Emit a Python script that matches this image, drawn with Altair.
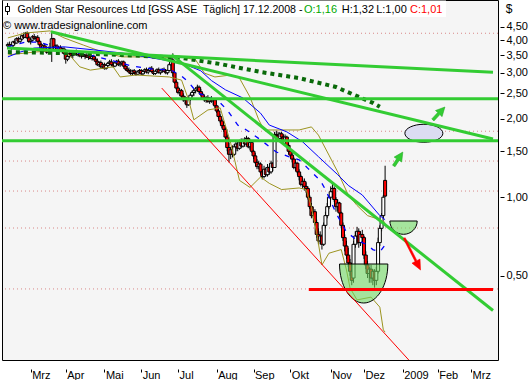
import altair as alt
import pandas as pd

# ---------------- data ----------------
opens = [
 3.80,3.85,3.74,3.82,3.94,3.90,4.05,3.96,4.04,4.16,
 4.10,4.25,4.08,3.95,4.00,4.12,4.06,4.10,3.96,3.84,
 3.72,3.80,3.66,3.60,3.74,3.70,4.05,3.76,3.80,3.68,
 3.75,3.64,3.70,3.56,3.38,3.46,3.56,3.50,3.54,3.60,
 3.52,3.58,3.48,3.52,3.47,3.50,3.44,3.48,3.40,3.46,
 3.38,3.32,3.22,3.28,3.16,3.22,3.12,3.20,3.26,3.30,
 3.22,3.18,3.27,3.32,3.22,3.26,3.30,3.18,3.10,3.06,
 3.02,2.98,3.05,3.00,2.96,3.02,3.06,2.97,3.03,3.08,
 3.02,3.06,3.12,3.03,2.98,3.04,3.08,3.00,3.05,3.09,
 3.04,3.00,3.06,3.22,3.36,3.00,2.76,2.62,2.52,2.56,
 2.44,2.36,2.40,2.26,2.38,2.46,2.52,2.56,2.60,2.64,
 2.54,2.48,2.40,2.36,2.41,2.33,2.38,2.34,2.36,2.24,
 2.14,2.04,1.96,1.88,1.82,1.70,1.55,1.46,1.52,1.46,
 1.56,1.60,1.54,1.63,1.57,1.65,1.60,1.68,1.56,1.62,
 1.50,1.44,1.36,1.31,1.34,1.25,1.20,1.28,1.22,1.30,
 1.25,1.35,1.30,1.74,1.72,1.68,1.75,1.70,1.65,1.70,
 1.58,1.50,1.45,1.40,1.30,1.35,1.25,1.20,1.12,1.15,
 1.10,1.08,1.00,0.92,0.85,0.88,0.80,0.72,0.68,0.71,
 0.66,0.78,0.85,0.92,1.00,1.05,1.08,0.98,0.92,0.95,
 0.87,0.78,0.70,0.65,0.60,0.56,0.52,0.49,0.66,0.71,
 0.74,0.67,0.72,0.70,0.60,0.55,0.51,0.53,0.49,0.52,
 0.48,0.52,0.67,0.76,0.85,1.16]
highs = [
 3.92,3.95,3.86,3.98,4.05,4.10,4.12,4.08,4.20,4.28,
 4.30,4.32,4.15,4.05,4.18,4.22,4.15,4.18,4.02,3.90,
 3.85,3.88,3.72,3.78,3.90,4.33,4.08,3.85,3.86,3.80,
 3.82,3.74,3.76,3.60,3.50,3.60,3.62,3.58,3.66,3.68,
 3.62,3.64,3.56,3.60,3.55,3.58,3.52,3.54,3.50,3.52,
 3.46,3.40,3.32,3.34,3.26,3.28,3.24,3.30,3.36,3.38,
 3.30,3.30,3.36,3.38,3.30,3.34,3.34,3.24,3.18,3.14,
 3.10,3.08,3.10,3.06,3.06,3.10,3.10,3.06,3.12,3.14,
 3.10,3.16,3.18,3.08,3.06,3.12,3.14,3.08,3.12,3.14,
 3.10,3.08,3.26,3.42,3.56,3.05,2.82,2.66,2.60,2.60,
 2.50,2.44,2.42,2.42,2.50,2.56,2.60,2.64,2.70,2.68,
 2.60,2.52,2.46,2.44,2.46,2.42,2.44,2.40,2.38,2.26,
 2.18,2.08,2.00,1.94,1.86,1.74,1.62,1.56,1.58,1.60,
 1.64,1.64,1.66,1.68,1.68,1.70,1.72,1.70,1.66,1.64,
 1.52,1.48,1.40,1.38,1.36,1.28,1.32,1.30,1.34,1.32,
 1.38,1.36,1.78,1.80,1.78,1.78,1.78,1.74,1.74,1.72,
 1.62,1.54,1.50,1.42,1.38,1.36,1.28,1.22,1.18,1.18,
 1.14,1.10,1.02,0.95,0.92,0.90,0.82,0.76,0.74,0.72,
 0.80,0.88,0.95,1.02,1.10,1.13,1.10,1.00,0.98,0.96,
 0.88,0.80,0.72,0.68,0.64,0.58,0.54,0.68,0.74,0.77,
 0.76,0.74,0.75,0.71,0.62,0.57,0.54,0.55,0.53,0.53,
 0.54,0.70,0.78,0.87,1.02,1.32]
lows = [
 3.72,3.70,3.66,3.78,3.85,3.88,3.92,3.90,4.00,4.06,
 4.08,4.05,3.90,3.85,3.96,4.02,3.95,3.92,3.80,3.68,
 3.66,3.62,3.55,3.56,3.70,3.30,3.70,3.66,3.64,3.62,
 3.60,3.56,3.52,3.25,3.32,3.42,3.44,3.40,3.50,3.48,
 3.46,3.44,3.40,3.45,3.38,3.42,3.36,3.38,3.34,3.36,
 3.28,3.18,3.16,3.12,3.10,3.08,3.08,3.16,3.20,3.18,
 3.14,3.15,3.22,3.18,3.16,3.20,3.14,3.06,3.02,2.98,
 2.94,2.94,2.96,2.92,2.94,2.98,2.94,2.92,3.00,2.98,
 2.96,3.04,3.00,2.94,2.94,3.00,2.98,2.95,3.00,3.02,
 2.96,2.95,3.04,3.18,2.90,2.72,2.58,2.48,2.44,2.40,
 2.32,2.28,2.20,2.24,2.34,2.42,2.44,2.50,2.54,2.50,
 2.44,2.36,2.32,2.30,2.30,2.28,2.30,2.26,2.20,2.10,
 2.00,1.92,1.84,1.78,1.66,1.50,1.36,1.40,1.42,1.44,
 1.50,1.50,1.52,1.54,1.55,1.56,1.58,1.54,1.52,1.48,
 1.40,1.34,1.28,1.28,1.22,1.17,1.18,1.20,1.20,1.22,
 1.23,1.26,1.30,1.66,1.64,1.66,1.66,1.62,1.63,1.56,
 1.46,1.42,1.36,1.28,1.26,1.22,1.16,1.10,1.08,1.06,
 1.04,0.98,0.90,0.83,0.83,0.78,0.70,0.66,0.66,0.63,
 0.65,0.76,0.83,0.90,0.98,1.00,0.96,0.88,0.88,0.84,
 0.76,0.68,0.62,0.58,0.54,0.50,0.46,0.47,0.64,0.66,
 0.64,0.65,0.66,0.58,0.53,0.49,0.47,0.47,0.46,0.45,
 0.46,0.51,0.65,0.74,0.83,1.00]
closes = [
 3.85,3.74,3.82,3.94,3.90,4.05,3.96,4.04,4.16,4.10,
 4.25,4.08,3.95,4.00,4.12,4.06,4.10,3.96,3.84,3.72,
 3.80,3.66,3.60,3.74,3.72,4.05,3.76,3.80,3.68,3.75,
 3.64,3.70,3.56,3.38,3.46,3.56,3.50,3.54,3.60,3.52,
 3.58,3.48,3.52,3.47,3.50,3.44,3.48,3.40,3.46,3.38,
 3.32,3.22,3.28,3.16,3.22,3.12,3.20,3.26,3.30,3.22,
 3.18,3.27,3.32,3.22,3.26,3.30,3.18,3.10,3.06,3.02,
 2.98,3.05,3.00,2.96,3.02,3.06,2.97,3.03,3.08,3.02,
 3.06,3.12,3.03,2.98,3.04,3.08,3.00,3.05,3.09,3.04,
 3.00,3.06,3.22,3.36,3.00,2.76,2.62,2.52,2.56,2.44,
 2.36,2.40,2.26,2.38,2.46,2.52,2.56,2.60,2.64,2.54,
 2.48,2.40,2.36,2.41,2.33,2.38,2.34,2.36,2.24,2.14,
 2.04,1.96,1.88,1.82,1.70,1.55,1.46,1.52,1.46,1.56,
 1.60,1.54,1.63,1.57,1.65,1.60,1.68,1.56,1.62,1.50,
 1.44,1.36,1.31,1.34,1.25,1.20,1.28,1.22,1.30,1.25,
 1.35,1.30,1.74,1.72,1.68,1.75,1.70,1.65,1.70,1.58,
 1.50,1.45,1.40,1.30,1.35,1.25,1.20,1.12,1.15,1.10,
 1.08,1.00,0.92,0.85,0.88,0.80,0.72,0.68,0.71,0.66,
 0.78,0.85,0.92,1.00,1.05,1.08,0.98,0.92,0.95,0.87,
 0.78,0.70,0.65,0.60,0.56,0.52,0.48,0.66,0.71,0.74,
 0.67,0.72,0.70,0.60,0.55,0.51,0.53,0.49,0.52,0.48,
 0.52,0.67,0.76,0.85,1.00,1.01]

month_idx = [13, 33, 55, 76, 97, 119, 140, 161, 184, 203, 225, 245, 264]
month_lbl = ["Mrz", "Apr", "Mai", "Jun", "Jul", "Aug", "Sep", "Okt", "Nov", "Dez", "2009", "Feb", "Mrz"]
y_ticks = [0.5, 1.0, 1.5, 2.0, 2.5, 3.0, 3.5, 4.0, 4.5]

# indicators
bb_up_i = [0, 10, 24, 32, 43, 54, 65, 77, 88, 99, 107, 112, 118, 127, 132, 138, 143, 146, 155, 166, 173, 177, 183, 188, 194, 199, 205, 212, 215]
bb_up_p = [4.08, 4.26, 4.34, 4.08, 3.83, 3.60, 3.45, 3.45, 3.42, 3.45, 3.36, 2.99, 2.89, 2.94, 2.86, 2.42, 1.98, 1.81, 1.81, 1.81, 1.86, 1.73, 1.45, 1.25, 1.02, 0.93, 0.85, 0.82, 0.80]
bb_lo_i = [0, 15, 32, 36, 41, 47, 60, 64, 73, 92, 99, 103, 106, 114, 121, 127, 132, 138, 144, 149, 156, 166, 170, 173, 176, 179, 183, 190, 193, 195, 199, 207, 212, 214, 215]
bb_lo_p = [3.51, 3.60, 3.67, 3.45, 3.16, 3.07, 3.16, 2.89, 2.94, 2.89, 2.81, 2.36, 1.98, 2.16, 2.20, 1.61, 1.16, 1.09, 1.195, 1.13, 1.07, 1.085, 1.07, 0.917, 0.73, 0.55, 0.61, 0.63, 0.526, 0.449, 0.404, 0.414, 0.379, 0.31, 0.304]
ma_long_i = [0, 7, 15, 32, 49, 65, 82, 99, 110, 116, 124, 134, 144, 149, 159, 168, 177, 188, 194, 202, 212, 215]
ma_long_p = [3.45, 3.60, 3.73, 3.77, 3.67, 3.57, 3.42, 3.27, 3.05, 2.80, 2.58, 2.40, 2.10, 1.89, 1.78, 1.63, 1.43, 1.22, 1.11, 1.02, 0.85, 0.82]
ma_short_i = [0, 10, 18, 26, 37, 49, 60, 71, 82, 93, 99, 103, 108, 116, 121, 125, 131, 136, 144, 153, 160, 166, 171, 178, 181, 187, 193, 199, 205, 208, 212, 215]
ma_short_p = [3.77, 3.93, 3.93, 3.77, 3.60, 3.48, 3.33, 3.18, 3.10, 3.07, 2.91, 2.76, 2.51, 2.40, 2.30, 2.16, 1.89, 1.81, 1.66, 1.49, 1.43, 1.39, 1.29, 1.16, 1.07, 0.87, 0.735, 0.685, 0.656, 0.63, 0.617, 0.656]
dots_i = [0, 32, 65, 99, 121, 144, 166, 187, 199, 208, 212]
dots_p = [3.60, 3.57, 3.51, 3.42, 3.24, 3.02, 2.86, 2.645, 2.44, 2.30, 2.22]

# drawn objects
grid_levels = [4.25, 1.79, 1.376, 1.056, 0.762, 0.445]
green_levels = [2.385, 1.647]
trend_names = ["c", "c", "d", "d", "e", "e"]
trend_i = [-0.5, 276.5, 24.5, 276.5, 93.3, 276.5]
trend_p = [3.73, 3.01, 4.31, 1.671, 3.51, 0.368]
red_diag_i = [87.7, 228.5]
red_diag_p = [2.62, 0.2377]
support_i = [171.5, 276.5]
support_p = [0.443, 0.443]
big_bowl = {"i": 202.8, "p": 0.5546}
small_bowl = {"i": 225.5, "p": 0.8105}
oval = {"i": 237.1, "p": 1.758}
arrow_g1 = {"i": 225.1, "p": 1.49}
arrow_g2 = {"i": 249.1, "p": 2.217}
arrow_r = {"i": 235.2, "p": 0.526}

# ---------------- chart ----------------
FONT = "Liberation Sans"
xs = alt.Scale(domain=[-0.5, 276.5], nice=False, zero=False)
ys = alt.Scale(type="log", domain=[0.2377, 5.70], nice=False)

lbl_expr = "".join(f"datum.value == {v} ? '{l}' : " for v, l in zip(month_idx, month_lbl)) + "''"
x_axis = alt.Axis(values=month_idx, labelExpr=lbl_expr, grid=False, domain=False,
                  tickSize=3, tickColor="black", offset=9, labelAlign="left",
                  labelBaseline="top", labelPadding=-3, labelOffset=1, labelFont=FONT,
                  labelFontSize=11, labelColor="black", title=None,
                  labelOverlap=False, labelFlush=False)
y_axis = alt.Axis(orient="right", values=y_ticks,
                  labelExpr="replace(format(datum.value, '.2f'), '.', ',')",
                  grid=False, domain=False, tickSize=4, tickColor="black", offset=2,
                  labelPadding=2, labelFont=FONT, labelFontSize=11, labelColor="black",
                  title=None, labelOverlap=False, labelFlush=False)

candles = pd.DataFrame({"i": list(range(len(closes))), "o": opens, "h": highs,
                        "l": lows, "c": closes})


def X(f):
    return alt.X(f, scale=xs, axis=x_axis)


def Y(f):
    return alt.Y(f, scale=ys, axis=y_axis)


def series(i, p):
    return pd.DataFrame({"i": i, "p": p, "k": list(range(len(i)))})


grid = alt.Chart(pd.DataFrame({"p": grid_levels})).mark_rule(
    color="#d98888", strokeDash=[1, 3], strokeWidth=1).encode(y=Y("p:Q"))

wicks = alt.Chart(candles).mark_rule(color="black", strokeWidth=1).encode(
    x=X("i:Q"), y=Y("l:Q"), y2="h:Q")
bodies = alt.Chart(candles).mark_bar(size=3, stroke="black", strokeWidth=1).encode(
    x=X("i:Q"), y=Y("o:Q"), y2="c:Q",
    fill=alt.condition("datum.c >= datum.o", alt.value("white"), alt.value("#ff0000")))

olive = "#9c9420"
bb_up = alt.Chart(series(bb_up_i, bb_up_p)).mark_line(color=olive, strokeWidth=1).encode(
    x=X("i:Q"), y=Y("p:Q"), order="k:Q")
bb_lo = alt.Chart(series(bb_lo_i, bb_lo_p)).mark_line(color=olive, strokeWidth=1).encode(
    x=X("i:Q"), y=Y("p:Q"), order="k:Q")
ma_long = alt.Chart(series(ma_long_i, ma_long_p)).mark_line(color="#0000ff", strokeWidth=1).encode(
    x=X("i:Q"), y=Y("p:Q"), order="k:Q")
ma_short = alt.Chart(series(ma_short_i, ma_short_p)).mark_line(
    color="#0000ff", strokeWidth=1.3, strokeDash=[5, 7]).encode(
    x=X("i:Q"), y=Y("p:Q"), order="k:Q")
dots = alt.Chart(series(dots_i, dots_p)).mark_line(
    color="#0a6a0a", strokeWidth=4, strokeDash=[4, 4]).encode(
    x=X("i:Q"), y=Y("p:Q"), order="k:Q")

K = 0.5523


def half_bowl(ry):
    return (f"M -1 0 C -1 {K*ry:.3f} {-K} {ry} 0 {ry} "
            f"C {K} {ry} 1 {K*ry:.3f} 1 0 Z")


def ellipse(ry):
    return (f"M -1 0 C -1 {-K*ry:.3f} {-K} {-ry} 0 {-ry} C {K} {-ry} 1 {-K*ry:.3f} 1 0 "
            f"C 1 {K*ry:.3f} {K} {ry} 0 {ry} C {-K} {ry} -1 {K*ry:.3f} -1 0 Z")


def arrow(length, sw, hw=0.45, hl=0.9):
    return (f"M 0 0 L {hw} {hl} L {sw} {hl} L {sw} {length} L {-sw} {length} "
            f"L {-sw} {hl} L {-hw} {hl} Z")


def one(d):
    return pd.DataFrame({"i": [d["i"]], "p": [d["p"]]})


bowl_big = alt.Chart(one(big_bowl)).mark_point(
    shape=half_bowl(1.615), size=48.3 ** 2, filled=True, fill="#6fd862",
    fillOpacity=0.6, stroke="black", strokeWidth=1, strokeOpacity=1, opacity=1).encode(
    x=X("i:Q"), y=Y("p:Q"))
bowl_small = alt.Chart(one(small_bowl)).mark_point(
    shape=half_bowl(0.975), size=27.3 ** 2, filled=True, fill="#6fd862",
    fillOpacity=0.6, stroke="black", strokeWidth=1, strokeOpacity=1, opacity=1).encode(
    x=X("i:Q"), y=Y("p:Q"))
oval_m = alt.Chart(one(oval)).mark_point(
    shape=ellipse(0.474), size=38 ** 2, filled=True, fill="#dcdcf2",
    fillOpacity=1, stroke="black", strokeWidth=1, strokeOpacity=1, opacity=1).encode(
    x=X("i:Q"), y=Y("p:Q"))

green = "#33cc33"
hlines = alt.Chart(pd.DataFrame({"p": green_levels})).mark_rule(
    color=green, strokeWidth=3).encode(y=Y("p:Q"))
trends = alt.Chart(pd.DataFrame({"n": trend_names, "i": trend_i, "p": trend_p})).mark_line(
    color=green, strokeWidth=3, clip=True).encode(x=X("i:Q"), y=Y("p:Q"), detail="n:N")
red_diag = alt.Chart(series(red_diag_i, red_diag_p)).mark_line(
    color="#ff0000", strokeWidth=1, clip=True).encode(x=X("i:Q"), y=Y("p:Q"), order="k:Q")
support = alt.Chart(series(support_i, support_p)).mark_line(
    color="#ff0000", strokeWidth=3).encode(x=X("i:Q"), y=Y("p:Q"), order="k:Q")

arr_g1 = alt.Chart(one(arrow_g1)).mark_point(
    shape=arrow(1.66, 0.15), size=400, filled=True, fill=green, stroke="#22aa22",
    strokeWidth=0.5, opacity=1, angle=33).encode(x=X("i:Q"), y=Y("p:Q"))
arr_g2 = alt.Chart(one(arrow_g2)).mark_point(
    shape=arrow(1.77, 0.15), size=400, filled=True, fill=green, stroke="#22aa22",
    strokeWidth=0.5, opacity=1, angle=43).encode(x=X("i:Q"), y=Y("p:Q"))
arr_r = alt.Chart(one(arrow_r)).mark_point(
    shape=arrow(3.58, 0.1, 0.45, 1.0), size=400, filled=True, fill="#ff0000",
    stroke="#ff0000", strokeWidth=0.5, opacity=1, angle=153).encode(x=X("i:Q"), y=Y("p:Q"))

# header texts
dummy = pd.DataFrame({"a": [0]})
box = alt.Chart(dummy).mark_rect(color="white").encode(
    x=alt.value(1), x2=alt.value(444), y=alt.value(0.5), y2=alt.value(17))
icon_line = alt.Chart(dummy).mark_rule(color="black", strokeWidth=1).encode(
    x=alt.value(5.5), y=alt.value(3), y2=alt.value(15))
icon_box = alt.Chart(dummy).mark_rect(fill="white", stroke="black", strokeWidth=1).encode(
    x=alt.value(3.5), x2=alt.value(7.5), y=alt.value(6.5), y2=alt.value(11.5))


def txt(s, x, y, color="black", size=11, align="left"):
    return alt.Chart(dummy).mark_text(
        text=s, font=FONT, fontSize=size, color=color, align=align,
        baseline="alphabetic").encode(x=alt.value(x), y=alt.value(y))


t1 = txt("Golden Star Resources Ltd [GSS ASE\u00a0 Täglich] 17.12.2008 -", 15.6, 13, size=10.6)
t2 = txt("O:1,16", 302, 13, color="#00a800")
t3 = txt("H:1,32", 339.7, 13)
t4 = txt("L:1,00", 374.2, 13)
t5 = txt("C:1,01", 408, 13, color="#ff0000")
t6 = txt("© www.tradesignalonline.com", 1, 28.5)
t7 = txt("$", 507, 13, size=12, align="center")

chart = alt.layer(
    grid, wicks, bodies, bb_up, bb_lo, ma_long, ma_short, dots,
    bowl_big, bowl_small, oval_m, hlines, trends, red_diag, support,
    arr_g1, arr_g2, arr_r,
    box, icon_line, icon_box, t1, t2, t3, t4, t5, t6, t7
).properties(
    width=496, height=360,
    padding={"left": 2, "top": 0, "right": 33, "bottom": 20},
    autosize=alt.AutoSizeParams(type="none"),
    background="white"
).configure_view(fill="#f5f5f5", stroke="black", strokeWidth=1)

chart.save("out.html", embed_options={"renderer": "svg", "actions": False})
